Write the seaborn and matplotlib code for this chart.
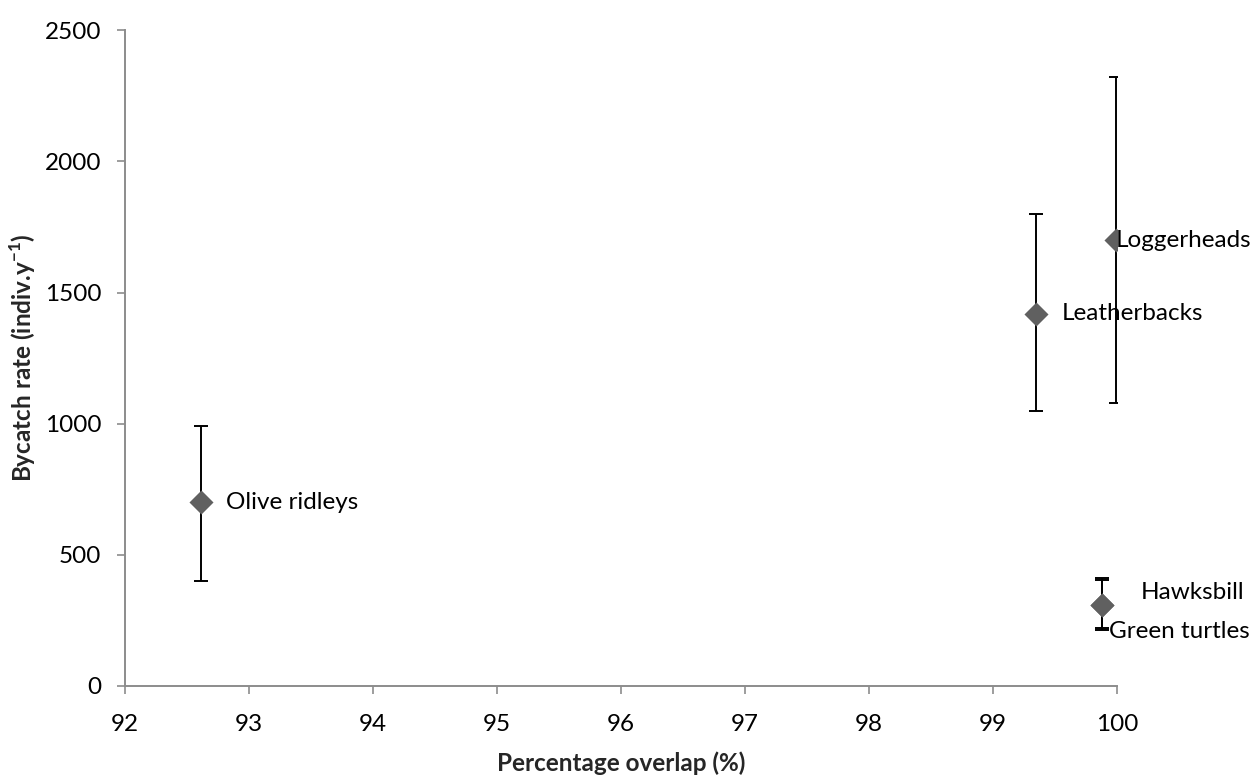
import matplotlib
matplotlib.use("Agg")
import matplotlib.pyplot as plt
import seaborn as sns
import pandas as pd

# Turtle bycatch vs. spatial overlap with the fishery
species = ["Olive ridleys", "Leatherbacks", "Loggerheads", "Hawksbill", "Green turtles"]
overlap = [92.61, 99.35, 99.99, 99.88, 99.88]
bycatch = [700, 1420, 1700, 310, 310]
lower = [400, 1050, 1080, 220, 215]
upper = [990, 1800, 2320, 410, 405]
x_ticks = [92, 93, 94, 95, 96, 97, 98, 99, 100]
y_ticks = [0, 500, 1000, 1500, 2000, 2500]

df = pd.DataFrame({"species": species, "overlap": overlap, "bycatch": bycatch,
                   "lower": lower, "upper": upper})

sns.set_style("white")
plt.rcParams["font.family"] = ["Lato", "DejaVu Sans"]
plt.rcParams["mathtext.fontset"] = "custom"
plt.rcParams["mathtext.rm"] = "Lato"
plt.rcParams["mathtext.bf"] = "Lato:bold"

fig = plt.figure(figsize=(12.58, 7.76), dpi=100)
ax = fig.add_axes([0.0994, 0.116, 0.7886, 0.845])

ax.errorbar(df["overlap"], df["bycatch"],
            yerr=[df["bycatch"] - df["lower"], df["upper"] - df["bycatch"]],
            fmt="none", ecolor="black", elinewidth=1.4, capsize=5, capthick=1.4,
            zorder=2)
sns.scatterplot(data=df, x="overlap", y="bycatch", marker="D", s=150,
                color="#606060", edgecolor="#606060", linewidth=0, ax=ax,
                zorder=3, legend=False)

# Data labels to the right of each point
offsets = {"Olive ridleys": (18, 0), "Leatherbacks": (18, 0),
           "Loggerheads": (0, 0), "Hawksbill": (28, 9), "Green turtles": (5, -19)}
for s, xv, yv in zip(species, overlap, bycatch):
    dx, dy = offsets[s]
    ax.annotate(s, (xv, yv), xytext=(dx, dy), textcoords="offset points",
                ha="left", va="center", fontsize=17.5, color="black")

ax.set_xlim(92, 100)
ax.set_ylim(0, 2500)
ax.set_xticks(x_ticks)
ax.set_yticks(y_ticks)
ax.tick_params(axis="both", labelsize=17.5, colors="black", length=6,
               width=1.2, direction="out", color="#8c8c8c")
ax.tick_params(axis="x", pad=14)
ax.tick_params(axis="y", pad=11)
ax.tick_params(axis="both", which="both", bottom=True, left=True)

for side in ["top", "right"]:
    ax.spines[side].set_visible(False)
for side in ["left", "bottom"]:
    ax.spines[side].set_color("#8c8c8c")
    ax.spines[side].set_linewidth(1.4)

ax.set_xlabel("Percentage overlap (%)", fontsize=17.5, fontweight="bold", labelpad=12)
ax.set_ylabel(r"Bycatch rate (indiv.y$^{\mathbf{-1}}$)", fontsize=17.5,
              fontweight="bold", labelpad=5)

fig.savefig("out.png", dpi=100)
